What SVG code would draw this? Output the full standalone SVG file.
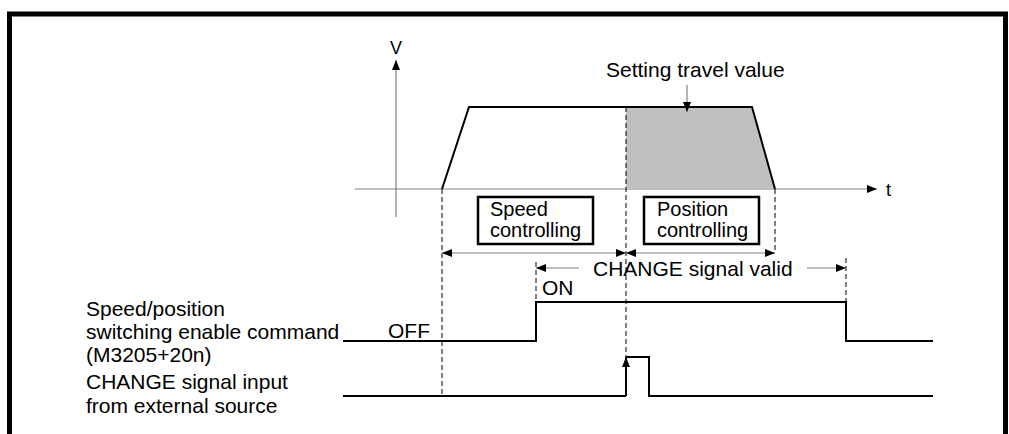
<svg xmlns="http://www.w3.org/2000/svg" width="1009" height="434" viewBox="0 0 1009 434">
<style>
text{font-family:"Liberation Sans",Arial,sans-serif;font-size:21px;fill:#000}
.bt{font-size:20px}
.ax{stroke:#808080;stroke-width:1.2;fill:none}
.dash{stroke:#000;stroke-width:1;stroke-dasharray:5 3;fill:none}
.sig{stroke:#000;stroke-width:2;fill:none}
.box{stroke:#000;stroke-width:2.5;fill:#fff}
.dim{stroke:#808080;stroke-width:1.2;fill:none}
</style>
<defs>
<marker id="ah" viewBox="0 0 10 8" refX="10" refY="4" markerWidth="10" markerHeight="8" markerUnits="userSpaceOnUse" orient="auto-start-reverse">
<path d="M0,0 L10,4 L0,8 Z" fill="#000"/>
</marker>
</defs>
<rect width="1009" height="434" fill="#fff"/>
<path d="M9.5,434 V14 H1005.5 V434" fill="none" stroke="#000" stroke-width="5"/>

<g id="axes">
<line class="ax" x1="396" y1="217" x2="396" y2="60" marker-end="url(#ah)"/>
<line class="ax" x1="355" y1="189" x2="877" y2="189" marker-end="url(#ah)"/>
<text x="396" y="54" text-anchor="middle" style="font-size:18px">V</text>
<text x="886" y="196" style="font-size:18px">t</text>
</g>

<g id="profile">
<path d="M626,107 H752 L775,189 H626 Z" fill="#c0c0c0"/>
<path d="M442,189 L469,107 H752 L775,189" class="sig"/>
</g>

<g id="setting-label">
<text x="606" y="77">Setting travel value</text>
</g>

<g id="speed-box">
<rect class="box" x="478" y="197" width="115" height="47"/>
<text class="bt" x="490" y="216">Speed</text>
<text class="bt" x="490" y="237">controlling</text>
</g>

<g id="position-box">
<rect class="box" x="644" y="197" width="115" height="47"/>
<text class="bt" x="657" y="216">Position</text>
<text class="bt" x="657" y="237">controlling</text>
</g>

<g id="labels">
<text x="86" y="316">Speed/position</text>
<text x="86" y="339">switching enable command</text>
<text x="86" y="362">(M3205+20n)</text>
<text x="86" y="389">CHANGE signal input</text>
<text x="86" y="413">from external source</text>
<text x="388" y="338">OFF</text>
<text x="542" y="295">ON</text>
<text x="593" y="276">CHANGE signal valid</text>
</g>

<g id="connectors">
<line class="dash" x1="442" y1="189" x2="442" y2="396"/>
<line class="dash" x1="626" y1="107" x2="626" y2="357"/>
<line class="dash" x1="775" y1="189" x2="775" y2="253"/>
<line class="dash" x1="536" y1="262" x2="536" y2="302"/>
<line class="dash" x1="846" y1="258" x2="846" y2="302"/>
<line class="dim" x1="442" y1="253" x2="626" y2="253" marker-start="url(#ah)" marker-end="url(#ah)"/>
<line class="dim" x1="626" y1="253" x2="775" y2="253" marker-start="url(#ah)" marker-end="url(#ah)"/>
<line class="dim" x1="579" y1="268" x2="536" y2="268" marker-end="url(#ah)"/>
<line class="dim" x1="807" y1="268" x2="846" y2="268" marker-end="url(#ah)"/>
<line class="dim" x1="687" y1="85" x2="687" y2="112" marker-end="url(#ah)"/>
<path class="sig" d="M343,341 H536 V302 H846 V341 H933"/>
<path class="sig" d="M343,396 H626"/>
<line class="sig" x1="626" y1="396" x2="626" y2="357" marker-end="url(#ah)"/>
<path class="sig" d="M626,357 H649 V396 H933"/>
</g>
</svg>
